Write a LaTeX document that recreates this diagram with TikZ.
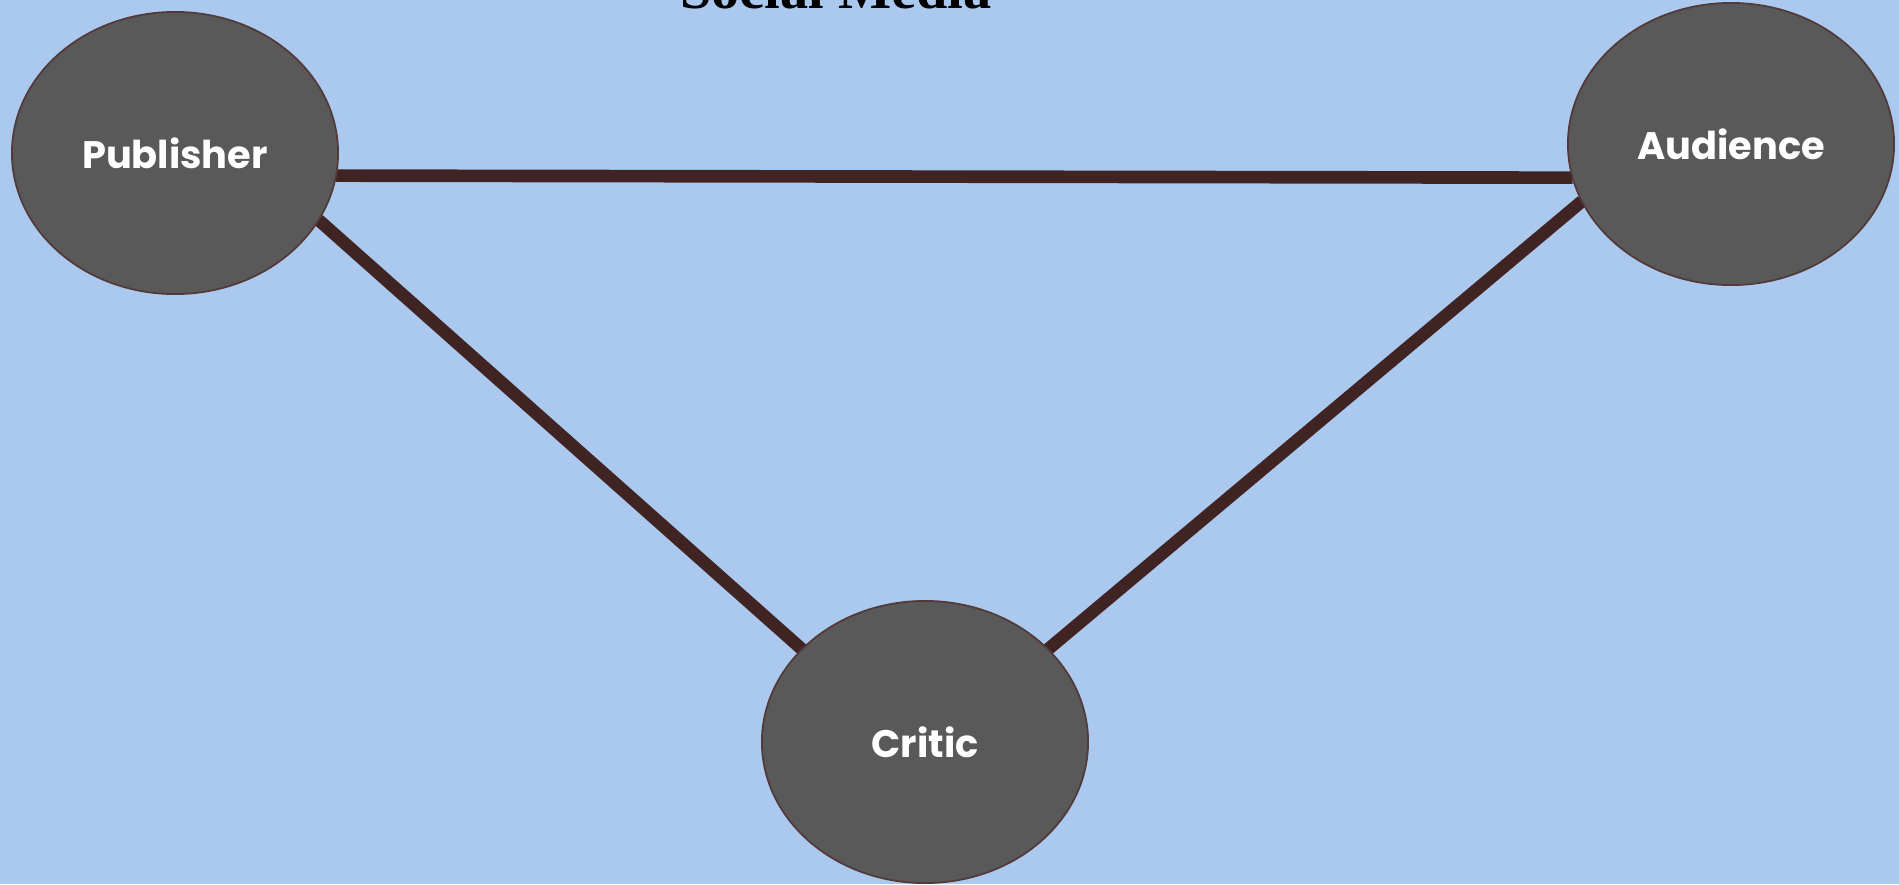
\documentclass[tikz,border=0pt]{standalone}
\usepackage{fontspec}
\setmainfont{Liberation Serif}
\newfontfamily\labelfont{Poppins}
\usetikzlibrary{shapes.geometric,backgrounds}
\definecolor{hintergrund}{RGB}{171,201,238}
\definecolor{knoten}{RGB}{89,89,89}
\definecolor{rand}{RGB}{82,58,58}
\definecolor{linie}{RGB}{64,36,36}

\begin{document}
\begin{tikzpicture}[x=0.01cm, y=-0.01cm,
        rolle/.style={ellipse, draw=rand, line width=0.5pt, fill=knoten,
            minimum width=3.26cm, minimum height=2.82cm, inner sep=0pt, outer sep=0pt,
            text=white, font=\labelfont\bfseries\fontsize{10.9}{13}\selectfont},
        verbindung/.style={linie, line width=3.6pt}]
        \useasboundingbox (0, 0) rectangle (1899, 884);
        \clip (0, 0) rectangle (1899, 884);

        % Titel
        \node[anchor=base, font=\bfseries\fontsize{16}{18}\selectfont] (titel) at (836, 8) {Social Media};

        % Knoten
        \node[rolle] (publisher) at (175, 153) {Publisher};
        \node[rolle] (audience) at (1731, 144) {Audience};
        \node[rolle] (critic) at (925, 742) {Critic};

        % Linien
        \begin{scope}[on background layer]
            \fill[hintergrund] (0, 0) rectangle (1899, 884);
            \draw[verbindung] (publisher.-8.8) -- (audience.192);
            \draw[verbindung] (publisher.-25.6) -- (critic.143);
            \draw[verbindung] (audience.-159.4) -- (critic.37.7);
        \end{scope}
    \end{tikzpicture}
\end{document}
